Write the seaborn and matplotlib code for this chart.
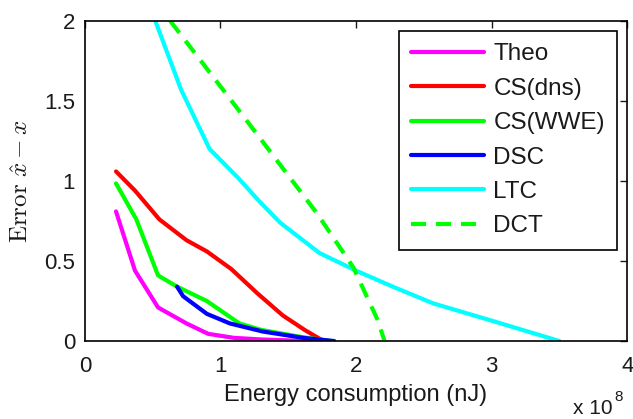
import numpy as np
import pandas as pd
import matplotlib
matplotlib.use("Agg")
import matplotlib.pyplot as plt
import seaborn as sns

# Data (x in units of 1e8 nJ)
theo_x = [0.23, 0.37, 0.54, 0.75, 0.91, 1.10, 1.30, 1.55, 1.80]
theo_y = [0.81, 0.44, 0.21, 0.11, 0.045, 0.02, 0.01, 0.003, 0.0]

csdns_x = [0.23, 0.37, 0.55, 0.75, 0.90, 1.08, 1.27, 1.46, 1.62, 1.76]
csdns_y = [1.06, 0.94, 0.76, 0.63, 0.56, 0.45, 0.30, 0.16, 0.07, 0.0]

cswwe_x = [0.23, 0.38, 0.54, 0.68, 0.90, 1.14, 1.30, 1.60, 1.82]
cswwe_y = [0.985, 0.76, 0.41, 0.34, 0.25, 0.11, 0.07, 0.025, 0.0]

dsc_x = [0.68, 0.725, 0.90, 1.07, 1.31, 1.61, 1.84]
dsc_y = [0.34, 0.28, 0.17, 0.11, 0.06, 0.02, 0.0]

ltc_x = [0.52, 0.71, 0.92, 1.13, 1.29, 1.44, 1.73, 2.00, 2.27, 2.57, 2.99, 3.50]
ltc_y = [2.00, 1.57, 1.20, 1.02, 0.87, 0.74, 0.55, 0.44, 0.34, 0.235, 0.13, 0.0]

dct_x = [0.63, 1.20, 1.71, 1.98, 2.16, 2.21]
dct_y = [2.00, 1.37, 0.80, 0.46, 0.13, 0.0]

labels = ["Theo", "CS(dns)", "CS(WWE)", "DSC", "LTC", "DCT"]
xticks = [0, 1, 2, 3, 4]
yticks = [0, 0.5, 1, 1.5, 2]
ytick_labels = ["0", "0.5", "1", "1.5", "2"]

series = [(theo_x, theo_y), (csdns_x, csdns_y), (cswwe_x, cswwe_y),
          (dsc_x, dsc_y), (ltc_x, ltc_y), (dct_x, dct_y)]
colors = ["#ff00ff", "#ff0000", "#00ff00", "#0000ff", "#00ffff", "#00ff00"]

sns.set_style("white")
plt.rcParams["font.family"] = ["Liberation Sans", "DejaVu Sans"]
plt.rcParams["mathtext.fontset"] = "cm"

fig = plt.figure(figsize=(6.33, 4.19), dpi=100)
ax = fig.add_axes([0.134, 0.186, 0.991 - 0.134, 0.950 - 0.186])

for (xs, ys), lab, col in zip(series, labels, colors):
    df = pd.DataFrame({"x": xs, "y": ys})
    sns.lineplot(data=df, x="x", y="y", ax=ax, sort=False, estimator=None,
                 color=col, linewidth=3.0, label=lab)
    if lab == "DCT":
        ax.lines[-1].set_dashes((3.6, 2.4))

ax.set_xlim(0, 4)
ax.set_ylim(0, 2)
ax.set_xticks(xticks)
ax.set_xticklabels([str(t) for t in xticks])
ax.set_yticks(yticks)
ax.set_yticklabels(ytick_labels)
ax.tick_params(direction="in", length=5, width=1, top=True, right=True,
               labelsize=16, colors="#1a1a1a", pad=7)
ax.tick_params(axis="x", pad=10.5)
for s in ax.spines.values():
    s.set_visible(True)
    s.set_color("black")
    s.set_linewidth(1.2)

ax.set_xlabel("Energy consumption (nJ)", fontsize=17, color="#1a1a1a", labelpad=5)
ax.set_ylabel(r"$\mathrm{Error}\ \hat{x}-x$", fontsize=18, color="#1a1a1a", labelpad=8)

fig.text(573 / 633, 1 - 408 / 419, "x 10", fontsize=15, color="#1a1a1a",
         ha="left", va="center")
fig.text(614 / 633, 1 - 397 / 419, "8", fontsize=11, color="#1a1a1a",
         ha="left", va="center")

leg = ax.legend(loc="upper right", fontsize=17.5, frameon=True, fancybox=False,
                edgecolor="black", framealpha=1, handlelength=3.0,
                handletextpad=0.38, labelspacing=0.51, borderaxespad=0.42,
                borderpad=0.5)
leg.get_frame().set_linewidth(1.2)
for t in leg.get_texts():
    t.set_color("#1a1a1a")

fig.savefig("out.png", dpi=100)
